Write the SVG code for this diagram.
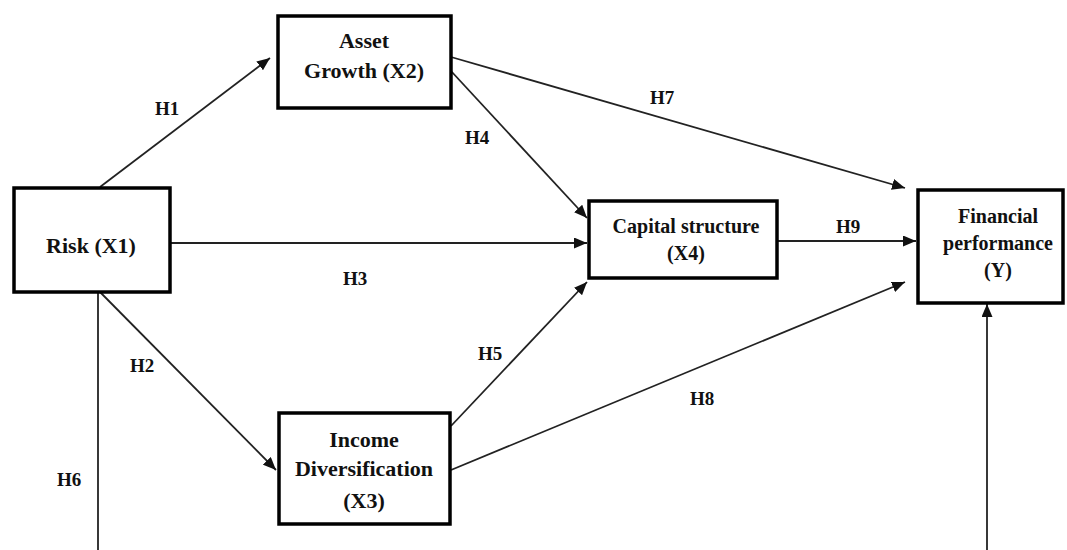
<svg xmlns="http://www.w3.org/2000/svg" width="1067" height="550" viewBox="0 0 1067 550">
<defs>
<marker id="arr" viewBox="0 0 13 11" refX="13" refY="5.5" markerWidth="13" markerHeight="11" markerUnits="userSpaceOnUse" orient="auto">
<path d="M0,0 L13,5.5 L0,11 z" fill="#111"/>
</marker>
<style>
.box{fill:#fff;stroke:#000;stroke-width:3.5}
.t{font-family:"Liberation Serif","Times New Roman",serif;font-weight:bold;fill:#111;text-anchor:middle}
.nt{font-size:22px}
.lb{font-family:"Liberation Serif","Times New Roman",serif;font-weight:bold;fill:#111;font-size:19px}
.c{stroke:#222;stroke-width:1.8;fill:none}
.ca{stroke:#222;stroke-width:1.8;fill:none;marker-end:url(#arr)}
</style>
</defs>
<rect width="1067" height="550" fill="#fff"/>
<g id="connectors">
<line class="ca" x1="100" y1="187" x2="270" y2="58"/>
<line class="ca" x1="451" y1="71" x2="587" y2="218"/>
<line class="ca" x1="451" y1="57" x2="905" y2="188"/>
<line class="ca" x1="170" y1="243" x2="587" y2="243"/>
<line class="ca" x1="777" y1="241" x2="916" y2="241"/>
<line class="ca" x1="100" y1="292" x2="276" y2="470"/>
<line class="ca" x1="451" y1="426" x2="587" y2="282"/>
<line class="ca" x1="451" y1="470" x2="905" y2="282"/>
<line class="c" x1="98" y1="292" x2="98" y2="550"/>
<line class="ca" x1="987" y1="550" x2="987" y2="304"/>
</g>
<g id="labels">
<text class="lb" x="155" y="115">H1</text>
<text class="lb" x="465" y="144">H4</text>
<text class="lb" x="650" y="104">H7</text>
<text class="lb" x="836" y="233">H9</text>
<text class="lb" x="343" y="285">H3</text>
<text class="lb" x="130" y="372">H2</text>
<text class="lb" x="478" y="360">H5</text>
<text class="lb" x="690" y="405">H8</text>
<text class="lb" x="57" y="486">H6</text>
</g>
<g id="risk">
<rect class="box" x="14" y="188" width="156" height="104"/>
<text class="t nt" x="91" y="253">Risk (X1)</text>
</g>
<g id="asset">
<rect class="box" x="278" y="16" width="173" height="92"/>
<text class="t nt" x="364" y="48">Asset</text>
<text class="t nt" x="364" y="78">Growth (X2)</text>
</g>
<g id="capital">
<rect class="box" x="589" y="201" width="188" height="77"/>
<text class="t" x="686" y="233" font-size="20">Capital structure</text>
<text class="t" x="686" y="260" font-size="20">(X4)</text>
</g>
<g id="financial">
<rect class="box" x="918" y="190" width="145" height="113"/>
<text class="t" x="998" y="223" font-size="20">Financial</text>
<text class="t" x="998" y="250" font-size="20">performance</text>
<text class="t" x="998" y="277" font-size="20">(Y)</text>
</g>
<g id="income">
<rect class="box" x="279" y="413" width="171" height="111"/>
<text class="t nt" x="364" y="447">Income</text>
<text class="t nt" x="364" y="476">Diversification</text>
<text class="t nt" x="364" y="508">(X3)</text>
</g>
</svg>
